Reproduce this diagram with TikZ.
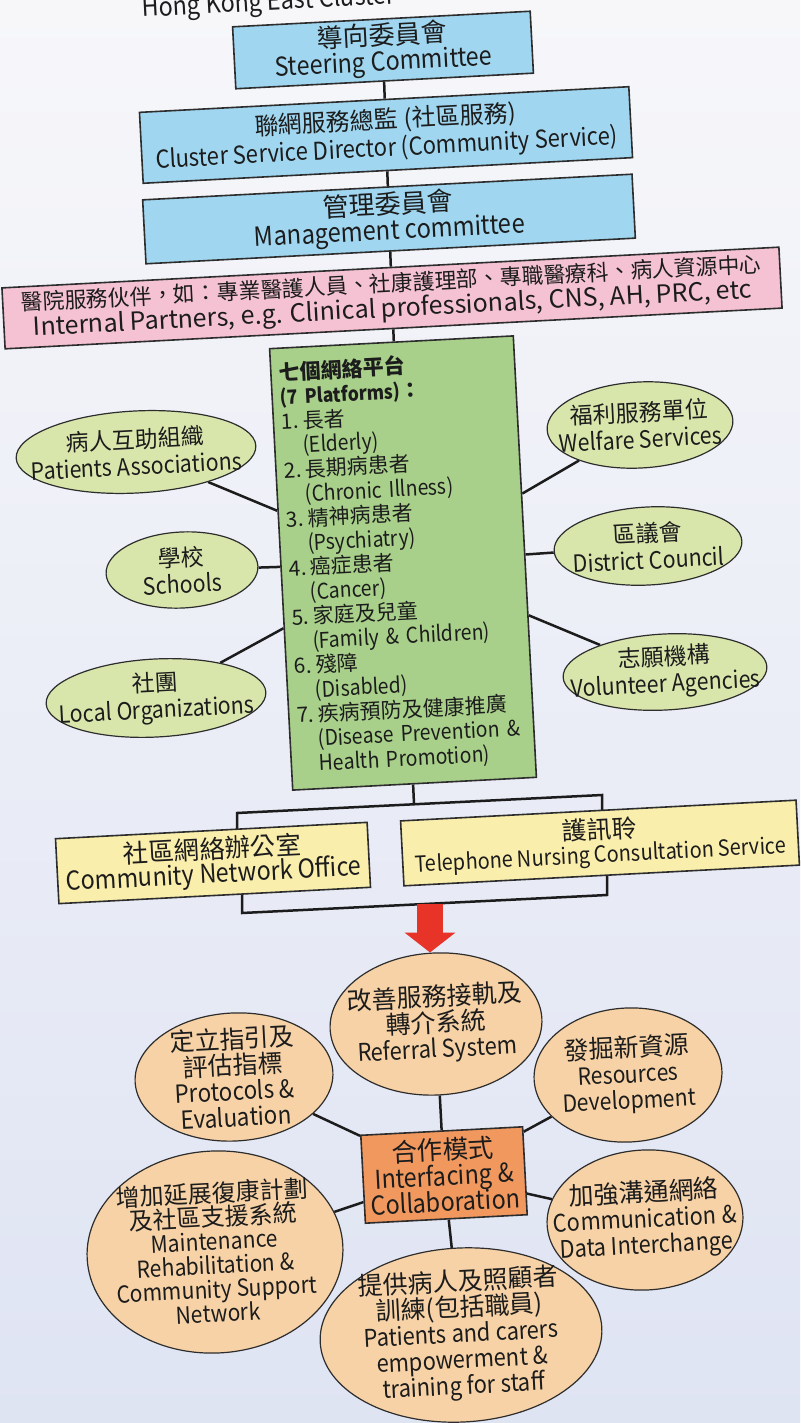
\documentclass[tikz,border=0pt]{standalone}
\usepackage{fontspec}
\setmainfont{Noto Sans CJK TC}
\newfontfamily\lat{Noto Sans CJK TC}[FakeStretch=0.9]
\usetikzlibrary{arrows.meta,shapes.geometric,calc}
\pgfdeclarelayer{back}
\pgfdeclarelayer{bg}
\pgfsetlayers{back,bg,main}
\definecolor{bgtop}{RGB}{247,247,250}
\definecolor{bgbot}{RGB}{223,228,243}
\definecolor{boxblue}{RGB}{160,214,240}
\definecolor{boxpink}{RGB}{244,194,210}
\definecolor{boxgreen}{RGB}{168,208,138}
\definecolor{ellgreen}{RGB}{216,230,172}
\definecolor{boxyellow}{RGB}{250,238,172}
\definecolor{ellpeach}{RGB}{246,210,166}
\definecolor{boxorange}{RGB}{240,152,94}
\definecolor{arrowred}{RGB}{232,52,40}
\definecolor{ink}{RGB}{28,28,28}
\definecolor{edge}{RGB}{45,45,45}
\newcommand{\fs}[2]{\fontsize{#1}{#2}\selectfont}
\newcommand{\LT}[2]{{\lat\fontsize{#1}{#1}\selectfont #2}}
\newsavebox{\cbx}
\newcommand{\cbox}[1]{%
  \sbox{\cbx}{\vbox{\lineskiplimit=-20pt\lineskip=0pt\let\\\cr\halign{\hfil##\hfil\cr#1\crcr}}}%
  \makebox[0pt][c]{\raisebox{\dimexpr(\dp\cbx-\ht\cbx)/2\relax}[0pt][0pt]{\usebox{\cbx}}}}
\lineskiplimit=-20pt
\begin{document}
\lineskiplimit=-20pt
\begin{tikzpicture}[x=0.5pt,y=-0.5pt,
  conn/.style={draw=ink,line width=1.25pt},
  rbox/.style={rectangle,draw=edge,line width=0.8pt,inner sep=0pt,align=center,text=ink,rotate=3},
  bluebox/.style={rbox,fill=boxblue},
  pinkbox/.style={rbox,fill=boxpink},
  ybox/.style={rbox,fill=boxyellow},
  obox/.style={rbox,fill=boxorange},
  ell/.style={ellipse,inner sep=0pt,draw=edge,line width=0.6pt,text=ink,rotate=3},
  gell/.style={ell,fill=ellgreen,font=\fs{11.5}{13.5}},
  pell/.style={ell,fill=ellpeach,font=\fs{12.5}{13}},
  redarrow/.style={draw=arrowred,line width=13pt,-{Triangle[width=25pt,length=10pt]}}
]
\useasboundingbox (0,0) rectangle (800,1423);
\clip (0,0) rectangle (800,1423);
\begin{pgfonlayer}{back}
\shade[top color=bgtop,bottom color=bgbot] (0,0) rectangle (800,1423);
\end{pgfonlayer}

% title (cut off at the top)
\node[anchor=base west,rotate=3,inner sep=0pt,text=ink,font=\lat\fs{13}{15}] (title) at (142,17) {Hong Kong East Cluster};

% top chain
\node[bluebox,minimum width=149pt,minimum height=31pt,font=\fs{13}{13}] (steer) at (383,50) {導向委員會\\\LT{13}{Steering Committee}};
\node[bluebox,minimum width=245pt,minimum height=35.5pt,font=\fs{12}{14}] (clus) at (386,135) {聯網服務總監 (社區服務)\\\LT{12.3}{Cluster Service Director (Community Service)}};
\node[bluebox,minimum width=245pt,minimum height=32pt,font=\fs{13}{12.8}] (mgmt) at (389,219) {管理委員會\\\LT{13.2}{Management committee}};
\node[pinkbox,minimum width=389pt,minimum height=30.5pt,font=\fs{10.9}{12.8}] (pink) at (392,298) {醫院服務伙伴，如：專業醫護人員、社康護理部、專職醫療科、病人資源中心\\{\fs{12.5}{12.5}Internal Partners, e.g. Clinical professionals, CNS, AH, PRC, etc}};

% platforms
\node[rbox,fill=boxgreen,minimum height=221pt,text width=114pt,inner xsep=4pt,align=left,font=\fs{10.5}{12.25}] (green) at (403,563) {%
{\bfseries 七個網絡平台}\\
{\bfseries\lat\fs{9.8}{9.8}(7 Platforms)}{\bfseries ：}\\
1.\hspace{2pt}長者\\
\hspace*{10pt}\LT{10.8}{(Elderly)}\\
2.\hspace{2pt}長期病患者\\
\hspace*{10pt}\LT{10.8}{(Chronic Illness)}\\
3.\hspace{2pt}精神病患者\\
\hspace*{10pt}\LT{10.8}{(Psychiatry)}\\
4.\hspace{2pt}癌症患者\\
\hspace*{10pt}\LT{10.8}{(Cancer)}\\
5.\hspace{2pt}家庭及兒童\\
\hspace*{10pt}\LT{10.8}{(Family \& Children)}\\
6.\hspace{2pt}殘障\\
\hspace*{10pt}\LT{10.8}{(Disabled)}\\
7.\hspace{2pt}疾病預防及健康推廣\\
\hspace*{10pt}\LT{10.8}{(Disease Prevention \&}\\
\hspace*{10pt}\LT{10.8}{Health Promotion)}};

\node[gell,minimum width=120pt,minimum height=41pt] (pa) at (136,452) {\cbox{病人互助組織\\\LT{11.9}{Patients Associations}}};
\node[gell,minimum width=76pt,minimum height=38pt] (sch) at (182,570) {\cbox{學校\\\LT{11.9}{Schools}}};
\node[gell,minimum width=110pt,minimum height=39pt] (lo) at (156,698) {\cbox{社團\\\LT{11.9}{Local Organizations}}};
\node[gell,minimum width=93pt,minimum height=43pt] (ws) at (640,425) {\cbox{福利服務單位\\\LT{11.9}{Welfare Services}}};
\node[gell,minimum width=94pt,minimum height=39pt] (dc) at (648,546) {\cbox{區議會\\\LT{11.9}{District Council}}};
\node[gell,minimum width=102pt,minimum height=38pt] (va) at (665,672) {\cbox{志願機構\\\LT{11.9}{Volunteer Agencies}}};

% yellow offices
\node[ybox,minimum width=156pt,minimum height=32.5pt,font=\fs{12.7}{12.3}] (cno) at (213,863) {社區網絡辦公室\\\LT{13}{Community Network Office}};
\node[ybox,minimum width=198pt,minimum height=32.5pt,font=\fs{12.4}{12}] (tel) at (600,843) {護訊聆\\\LT{11.1}{Telephone Nursing Consultation Service}};

\coordinate (gb) at (414,804);
\coordinate (tl) at (237,813);
\coordinate (tr) at (602,795);
\coordinate (bl) at (242,913);
\coordinate (br) at (607,895);
\coordinate (arr) at (430,904);

% collaboration
\node[pell,minimum width=106pt,minimum height=71pt] (ref) at (436,1024) {\cbox{改善服務接軌及\\轉介系統\\\LT{12.2}{Referral System}}};
\node[pell,minimum width=99pt,minimum height=64pt] (prot) at (234,1077) {\cbox{定立指引及\\評估指標\\\LT{12.5}{Protocols \&}\\\LT{12.5}{Evaluation}}};
\node[pell,minimum width=94pt,minimum height=67pt] (res) at (628,1075) {\cbox{發掘新資源\\\LT{11.8}{Resources}\\\LT{11.8}{Development}}};
\node[obox,minimum width=81pt,minimum height=44pt,font=\fs{12.8}{13}] (coll) at (444,1175) {合作模式\\\LT{13}{Interfacing \&}\\\LT{13}{Collaboration}};
\node[pell,minimum width=128pt,minimum height=101pt,font=\fs{12}{12}] (maint) at (215,1252) {\cbox{增加延展復康計劃\\及社區支援系統\\\LT{11.7}{Maintenance}\\\LT{11.7}{Rehabilitation \&}\\\LT{11.7}{Community Support}\\\LT{11.7}{Network}}};
\node[pell,minimum width=98pt,minimum height=70pt] (comm) at (645,1220) {\cbox{加強溝通網絡\\\LT{12.1}{Communication \&}\\\LT{12.1}{Data Interchange}}};
\node[pell,minimum width=141pt,minimum height=87pt] (pat) at (461,1335) {\cbox{提供病人及照顧者\\訓練(包括職員)\\\LT{12.2}{Patients and carers}\\\LT{12.2}{empowerment \&}\\\LT{12.2}{training for staff}}};

\draw[redarrow] (arr) -- (arr |- ref.north);

\begin{pgfonlayer}{bg}
\draw[conn] (steer) -- (clus);
\draw[conn] (clus) -- (mgmt);
\draw[conn] (mgmt) -- (pink);
\draw[conn] (pink) -- (green);
\foreach \e in {pa,sch,lo,ws,dc,va} \draw[conn] (\e) -- (green);
\draw[conn] (green) -- (gb);
\draw[conn] (tl |- cno.center) -- (tl) -- (tr) -- (tr |- tel.center);
\draw[conn] (bl |- cno.center) -- (bl) -- (br) -- (br |- tel.center);
\foreach \e in {ref,prot,res,maint,comm,pat} \draw[conn] (coll) -- (\e);
\end{pgfonlayer}
\end{tikzpicture}
\end{document}
